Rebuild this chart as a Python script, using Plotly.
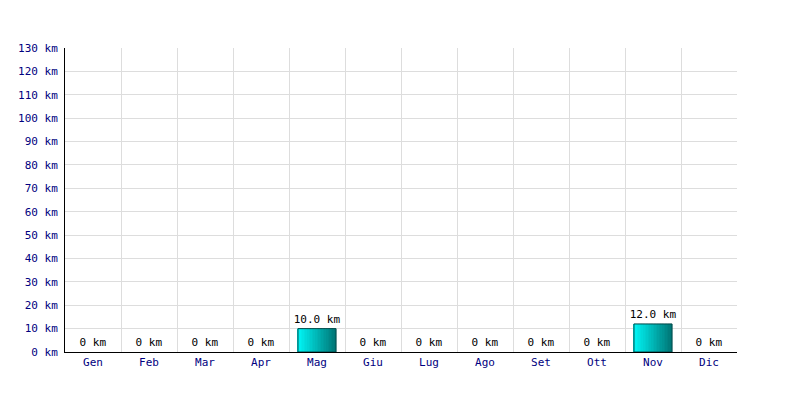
import plotly.graph_objects as go

months = ["Gen", "Feb", "Mar", "Apr", "Mag", "Giu", "Lug", "Ago", "Set", "Ott", "Nov", "Dic"]
km = [0, 0, 0, 0, 10.0, 0, 0, 0, 0, 0, 12.0, 0]
labels = ["0 km" if v == 0 else f"{v:.1f} km" for v in km]

BAR_W = 0.68
N = 24
c0 = (0, 245, 245)
c1 = (0, 120, 120)

fig = go.Figure()
for i in range(N):
    t = i / (N - 1)
    col = "rgb(%d,%d,%d)" % tuple(round(a + (b - a) * t) for a, b in zip(c0, c1))
    fig.add_trace(go.Bar(
        x=months, y=km, width=BAR_W / N + 0.002, offset=-BAR_W / 2 + i * BAR_W / N,
        marker=dict(color=col, line=dict(width=0)), hoverinfo="skip", showlegend=False,
    ))
fig.add_trace(go.Bar(
    x=months, y=km, width=BAR_W, offset=-BAR_W / 2,
    marker=dict(color="rgba(0,0,0,0)",
                line=dict(color="#004848", width=[0 if v == 0 else 1 for v in km])),
    text=labels, textposition="outside", cliponaxis=False, constraintext="none",
    outsidetextfont=dict(family="DejaVu Sans Mono", size=11, color="black"),
    textfont=dict(family="DejaVu Sans Mono", size=11, color="black"),
    showlegend=False,
))

fig.update_layout(
    width=800, height=400, barmode="overlay",
    paper_bgcolor="white", plot_bgcolor="white",
    margin=dict(l=57, r=71, t=40, b=56, autoexpand=False),
    font=dict(family="DejaVu Sans Mono", size=11, color="#000080"),
)
fig.update_xaxes(
    type="category", tickson="boundaries", showgrid=True, gridcolor="#dddddd", gridwidth=1,
    showline=True, linecolor="black", linewidth=1, ticks="", ticklen=0, automargin=False,
    tickfont=dict(family="DejaVu Sans Mono", size=11, color="#000080"),
    range=[-0.5, 11.5],
)
fig.update_yaxes(
    range=[0, 130], dtick=10, ticksuffix=" km", showgrid=True, gridcolor="#dddddd",
    showline=True, linecolor="black", linewidth=1, zeroline=False, ticks="", automargin=False,
    ticklabelstandoff=4,
    tickfont=dict(family="DejaVu Sans Mono", size=11, color="#000080"),
)
fig.write_html("out.html")
